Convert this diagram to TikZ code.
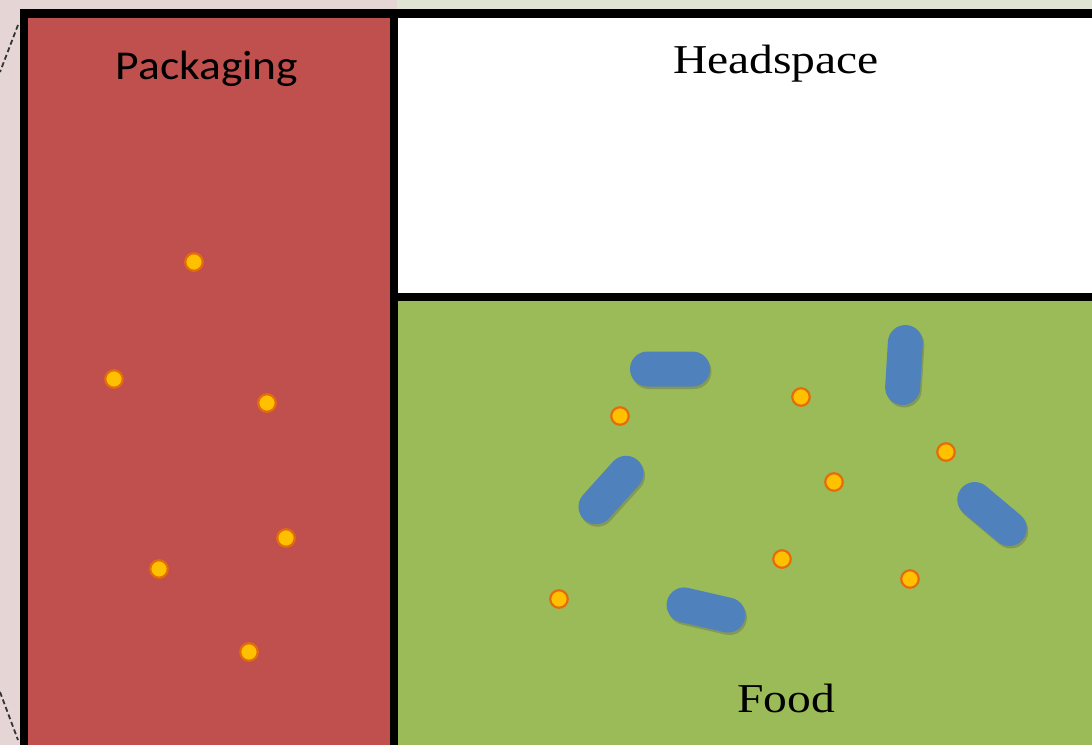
\documentclass[tikz,border=0pt]{standalone}
\usepackage{fontspec}
\setmainfont{Liberation Serif}
\newfontfamily\calib{Carlito}
\usetikzlibrary{shadows}
\definecolor{pinkbg}{HTML}{E6D5D5}
\definecolor{greenbg}{HTML}{DFE5D2}
\definecolor{packred}{HTML}{C0504D}
\definecolor{foodgreen}{HTML}{9BBB59}
\definecolor{capblue}{HTML}{4F81BD}
\definecolor{dotyellow}{HTML}{FFC000}
\definecolor{dotorange}{HTML}{E46C0A}
\tikzset{
  x=1pt, y=-1pt,
  wall/.style={line width=8.5pt, black},
  capsule/.style={rectangle, rounded corners=17.5pt, minimum width=80pt, minimum height=35pt,
    inner sep=0pt, fill=capblue, draw=none,
    drop shadow={shadow xshift=1.5pt, shadow yshift=-2.5pt, opacity=0.3, fill=black!70}},
  mote/.style={circle, minimum size=17.5pt, inner sep=0pt, fill=dotyellow, draw=dotorange, line width=2.2pt},
  label/.style={anchor=base, inner sep=0pt, text=black},
  guide/.style={dash pattern=on 5pt off 3pt, gray!40!black, line width=1.8pt}
}
\begin{document}
\begin{tikzpicture}
\useasboundingbox (0,0) rectangle (1092,745);
% background bands
\fill[pinkbg] (0,0) rectangle (397,745);
\fill[greenbg] (397,0) rectangle (1092,14);
% panels
\fill[packred] (24,14) rectangle (394,745);
\fill[white] (394,14) rectangle (1092,297);
\fill[foodgreen] (394,297) rectangle (1092,745);
% walls
\coordinate (tl) at (24,745);
\coordinate (tt) at (24,13.5);
\coordinate (tr) at (1092,13.5);
\coordinate (dt) at (394,13.5);
\coordinate (db) at (394,745);
\coordinate (hl) at (394,297);
\coordinate (hr) at (1092,297);
\draw[wall] (tl) -- (tt) -- (tr);
\draw[wall] (dt) -- (db);
\draw[wall] (hl) -- (hr);
% dashed guides
\coordinate (g1a) at (18,25);
\coordinate (g1b) at (0,72);
\coordinate (g2a) at (0,692);
\coordinate (g2b) at (18,740);
\draw[guide] (g1a) -- (g1b);
\draw[guide] (g2a) -- (g2b);
% labels
\node[label, font=\calib\fontsize{41}{48}\selectfont] (lpack) at (207,79) {\scalebox{1.11}[1]{Packaging}};
\node[label, font=\fontsize{41}{48}\selectfont] (lhead) at (776,73) {\scalebox{1.16}[1]{Headspace}};
\node[label, font=\fontsize{41}{48}\selectfont] (lfood) at (786,712) {\scalebox{1.16}[1]{Food}};
% capsules
\node[capsule] (c1) at (670,369) {};
\node[capsule, rotate=86.5] (c2) at (904,365) {};
\node[capsule, rotate=48] (c3) at (611,490) {};
\node[capsule, rotate=-40] (c4) at (992,514) {};
\node[capsule, rotate=-13] (c5) at (706,610) {};
% motes in packaging
\node[mote] (p1) at (194,262) {};
\node[mote] (p2) at (114,379) {};
\node[mote] (p3) at (267,403) {};
\node[mote] (p4) at (286,538) {};
\node[mote] (p5) at (159,569) {};
\node[mote] (p6) at (249,652) {};
% motes in food
\node[mote] (f1) at (620,416) {};
\node[mote] (f2) at (801,397) {};
\node[mote] (f3) at (946,452) {};
\node[mote] (f4) at (834,482) {};
\node[mote] (f5) at (782,559) {};
\node[mote] (f6) at (910,579) {};
\node[mote] (f7) at (559,599) {};
\end{tikzpicture}
\end{document}
